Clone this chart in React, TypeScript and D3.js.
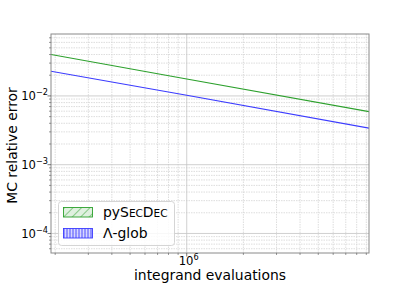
import * as d3 from "d3";
import React from "react";

// integrand evaluations (x) and MC relative error
const evaluations = [1.9e5, 1.0e6, 9.3e6];
const pySecDecErr = [0.0401, 0.0176, 0.0059];
const lambdaGlobErr = [0.0229, 0.0102, 0.0034];

const seriesNames = ["pySecDec", "Λ-glob"];
const seriesColors = ["#2ca02c", "#3b3bff"];

const xDomain = [1.9e5, 9.3e6];
const yDomain = [5.2e-5, 0.0795];
const yMajorTicks = [1e-4, 1e-3, 1e-2];
const xMajorTicks = [1e6];

const W = 411;
const H = 285;
const margin = { top: 34, right: 42, bottom: 32, left: 51 };
const FONT = "DejaVu Sans, sans-serif";
const TICK_FS = 11.6;

const minorTicks = (lo: number, hi: number) => {
  const out: number[] = [];
  for (let e = Math.floor(Math.log10(lo)); e <= Math.ceil(Math.log10(hi)); e++) {
    for (let m = 2; m <= 9; m++) {
      const v = m * Math.pow(10, e);
      if (v >= lo && v <= hi) out.push(v);
    }
  }
  return out;
};

const Pow10 = ({ x, y, exp, anchor }: { x: number; y: number; exp: string; anchor: string }) => (
  <text x={x} y={y} textAnchor={anchor} fontFamily={FONT} fontSize={TICK_FS} fill="#000">
    10<tspan dy={-5} fontSize={8.2}>{exp}</tspan>
  </text>
);

export default function App() {
  const x = d3.scaleLog().domain(xDomain).range([margin.left, W - margin.right]);
  const y = d3.scaleLog().domain(yDomain).range([H - margin.bottom, margin.top]);
  const [x0, x1] = x.range();
  const [y1, y0] = y.range();

  const line = d3
    .line<[number, number]>()
    .x((d) => x(d[0]))
    .y((d) => y(d[1]));

  const series = [pySecDecErr, lambdaGlobErr].map((vals) =>
    evaluations.map((e, i) => [e, vals[i]] as [number, number])
  );

  const xMinor = minorTicks(xDomain[0], xDomain[1]);
  const yMinor = minorTicks(yDomain[0], yDomain[1]);

  const legX = 58.5;
  const legY = 201.5;

  return (
    <svg width={W} height={H} style={{ position: "absolute", left: 0, top: 0, background: "#fff" }}>
      <defs>
        <pattern id="hatchDiag" patternUnits="userSpaceOnUse" width={6} height={6} patternTransform="rotate(45)">
          <rect width={6} height={6} fill="#2ca02c" fillOpacity={0.15} />
          <line x1={0} y1={0} x2={0} y2={6} stroke="#2ca02c" strokeWidth={1} />
        </pattern>
        <pattern id="hatchVert" patternUnits="userSpaceOnUse" width={3} height={6}>
          <rect width={3} height={6} fill="#3b3bff" fillOpacity={0.2} />
          <line x1={1} y1={0} x2={1} y2={6} stroke="#3b3bff" strokeWidth={0.9} />
        </pattern>
        <clipPath id="plotClip">
          <rect x={x0} y={y0} width={x1 - x0} height={y1 - y0} />
        </clipPath>
      </defs>

      {/* grid */}
      <g>
        {xMinor.map((v) => (
          <line key={"xm" + v} x1={x(v)} x2={x(v)} y1={y0} y2={y1} stroke="#d4d4d4" strokeWidth={0.8} strokeDasharray="1.5,1" />
        ))}
        {yMinor.map((v) => (
          <line key={"ym" + v} x1={x0} x2={x1} y1={y(v)} y2={y(v)} stroke="#d4d4d4" strokeWidth={0.8} strokeDasharray="1.5,1" />
        ))}
        {xMajorTicks.map((v) => (
          <line key={"xM" + v} x1={x(v)} x2={x(v)} y1={y0} y2={y1} stroke="#c4c4c4" strokeWidth={0.8} />
        ))}
        {yMajorTicks.map((v) => (
          <line key={"yM" + v} x1={x0} x2={x1} y1={y(v)} y2={y(v)} stroke="#c4c4c4" strokeWidth={0.8} />
        ))}
      </g>

      {/* series */}
      <g clipPath="url(#plotClip)">
        {series.map((s, i) => (
          <path key={i} d={line(s) || ""} fill="none" stroke={seriesColors[i]} strokeWidth={1.1} />
        ))}
      </g>

      {/* frame */}
      <rect x={x0} y={y0} width={x1 - x0} height={y1 - y0} fill="none" stroke="#8a8a8a" strokeWidth={1} />

      {/* ticks */}
      {xMinor.map((v) => (
        <line key={"xt" + v} x1={x(v)} x2={x(v)} y1={y1} y2={y1 + 2} stroke="#555" strokeWidth={0.6} />
      ))}
      {xMajorTicks.map((v) => (
        <g key={"xT" + v}>
          <line x1={x(v)} x2={x(v)} y1={y1} y2={y1 + 3.5} stroke="#555" strokeWidth={0.8} />
          <Pow10 x={x(v) + 2} y={y1 + 12} exp={String(Math.round(Math.log10(v)))} anchor="middle" />
        </g>
      ))}
      {yMinor.map((v) => (
        <line key={"yt" + v} x1={x0 - 2} x2={x0} y1={y(v)} y2={y(v)} stroke="#555" strokeWidth={0.6} />
      ))}
      {yMajorTicks.map((v) => (
        <g key={"yT" + v}>
          <line x1={x0 - 3.5} x2={x0} y1={y(v)} y2={y(v)} stroke="#555" strokeWidth={0.8} />
          <Pow10 x={x0 - 3} y={y(v) + 4.5} exp={"\u2212" + Math.abs(Math.round(Math.log10(v)))} anchor="end" />
        </g>
      ))}

      {/* axis labels */}
      <text x={(x0 + x1) / 2} y={279.5} textAnchor="middle" fontFamily={FONT} fontSize={13.9}>
        integrand evaluations
      </text>
      <text
        transform={`translate(16.5,${(y0 + y1) / 2 + 2}) rotate(-90)`}
        textAnchor="middle"
        fontFamily={FONT}
        fontSize={13.9}
      >
        MC relative error
      </text>

      {/* legend */}
      <g>
        <rect x={legX} y={legY} width={116} height={44} rx={3} fill="#fff" fillOpacity={0.85} stroke="#d0d0d0" strokeWidth={0.9} />
        <rect x={63.5} y={207.5} width={29} height={9.5} fill="url(#hatchDiag)" stroke="#2ca02c" strokeWidth={0.9} />
        <rect x={63.5} y={228.5} width={29} height={9.5} fill="url(#hatchVert)" stroke="#3b3bff" strokeWidth={0.9} />
        <text x={103} y={217} fontFamily={FONT} fontSize={13.9}>
          py<tspan>S</tspan>
          <tspan fontSize={10.5}>EC</tspan>D<tspan fontSize={10.5}>EC</tspan>
        </text>
        <text x={103} y={238} fontFamily={FONT} fontSize={13.9}>
          {seriesNames[1]}
        </text>
      </g>
    </svg>
  );
}
